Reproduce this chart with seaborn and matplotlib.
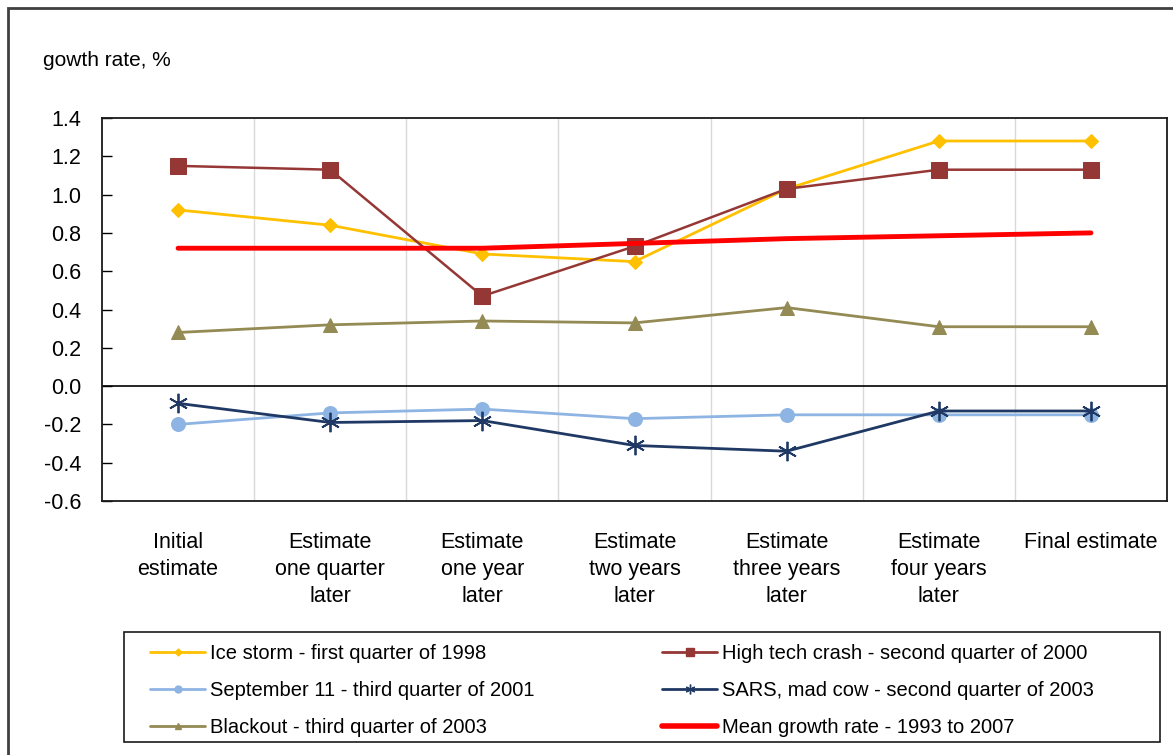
import matplotlib
matplotlib.use("Agg")
import matplotlib.pyplot as plt
import matplotlib.patches as mpatches
import seaborn as sns
import pandas as pd
import numpy as np

categories = [
    "Initial\nestimate",
    "Estimate\none quarter\nlater",
    "Estimate\none year\nlater",
    "Estimate\ntwo years\nlater",
    "Estimate\nthree years\nlater",
    "Estimate\nfour years\nlater",
    "Final estimate",
]

ice_storm = [0.92, 0.84, 0.69, 0.65, 1.03, 1.28, 1.28]
high_tech = [1.15, 1.13, 0.47, 0.73, 1.03, 1.13, 1.13]
sept_11 = [-0.20, -0.14, -0.12, -0.17, -0.15, -0.15, -0.15]
sars = [-0.09, -0.19, -0.18, -0.31, -0.34, -0.13, -0.13]
blackout = [0.28, 0.32, 0.34, 0.33, 0.41, 0.31, 0.31]
mean_growth = [0.72, 0.72, 0.72, 0.745, 0.77, 0.785, 0.80]

series_names = [
    "Ice storm - first quarter of 1998",
    "High tech crash - second quarter of 2000",
    "September 11 - third quarter of 2001",
    "SARS, mad cow - second quarter of 2003",
    "Blackout - third quarter of 2003",
    "Mean growth rate - 1993 to 2007",
]
series_values = [ice_storm, high_tech, sept_11, sars, blackout, mean_growth]

styles = {
    series_names[0]: dict(color="#FFC000", marker="D", ms=7, lw=2.0),
    series_names[1]: dict(color="#953735", marker="s", ms=11, lw=1.8),
    series_names[2]: dict(color="#8EB4E3", marker="o", ms=10, lw=2.0),
    series_names[3]: dict(color="#1F3864", marker=(6, 2, 0), ms=14, lw=2.0),
    series_names[4]: dict(color="#948A54", marker="^", ms=10, lw=2.0),
    series_names[5]: dict(color="#FF0000", marker=None, ms=0, lw=3.5),
}

sns.set_theme(style="white")
plt.rcParams["font.family"] = ["Liberation Sans", "DejaVu Sans"]
plt.rcParams["text.color"] = "black"
plt.rcParams["xtick.color"] = "black"
plt.rcParams["ytick.color"] = "black"

fig = plt.figure(figsize=(11.73, 7.55), dpi=100)
W, H = 1173, 755
ax = fig.add_axes([102 / W, 1 - 501 / H, (1167 - 102) / W, (501 - 118) / H])

x_pos = np.arange(len(categories))
frames = []
for name, vals in zip(series_names, series_values):
    frames.append(pd.DataFrame({"pos": x_pos, "value": vals, "series": name}))
df = pd.concat(frames, ignore_index=True)

# draw the mean line first so the event series sit on top
draw_order = [5, 4, 2, 0, 1, 3]
for i in draw_order:
    name = series_names[i]
    st = styles[name]
    sub = df[df["series"] == name]
    kw = dict(marker=st["marker"], markersize=st["ms"],
              markeredgecolor=st["color"], markerfacecolor=st["color"])
    if st["marker"] is None:
        kw = {}
    if i == 3:
        kw["markeredgewidth"] = 1.3
    sns.lineplot(data=sub, x="pos", y="value", ax=ax, color=st["color"],
                 linewidth=st["lw"], label=name, legend=False, zorder=3 + i, **kw)

ax.set_xlim(-0.5, len(categories) - 0.5)
ax.set_ylim(-0.6, 1.4)
yt = np.arange(-0.6, 1.41, 0.2)
ax.set_yticks(yt)
ax.set_yticklabels([f"{v:.1f}" for v in yt], fontsize=15.5)
ax.set_xticks(x_pos)
ax.set_xticklabels(categories, fontsize=15.5, linespacing=1.38, va="top")
ax.tick_params(axis="x", length=0, pad=22)
ax.tick_params(axis="y", direction="in", length=7, width=1, color="black", pad=15, left=True)
ax.set_xlabel("")
ax.set_ylabel("")

# vertical separators between categories
for b in np.arange(0.5, len(categories) - 0.5, 1.0):
    ax.axvline(b, color="#D9D9D9", lw=1.0, zorder=1)
ax.axhline(0, color="black", lw=1.2, zorder=2)

for s in ax.spines.values():
    s.set_visible(True)
    s.set_color("#1a1a1a")
    s.set_linewidth(1.3)

fig.text(43 / W, 1 - 60 / H, "gowth rate, %", fontsize=15, va="center", ha="left")

# legend: frame box plus two columns of entries
handles = {}
for name in series_names:
    st = styles[name]
    if st["marker"] is None:
        h = plt.Line2D([], [], color=st["color"], lw=4)
    else:
        h = plt.Line2D([], [], color=st["color"], lw=2, marker=st["marker"],
                       markersize=st["ms"] * 0.5, markeredgecolor=st["color"],
                       markerfacecolor=st["color"])
    handles[name] = h

fig.patches.append(mpatches.Rectangle((124 / W, 1 - 742 / H), (1160 - 124) / W, (742 - 632) / H,
                                      transform=fig.transFigure, fill=True,
                                      facecolor="white", edgecolor="#1a1a1a", lw=1.2,
                                      zorder=1))

col_left = [series_names[0], series_names[2], series_names[4]]
col_right = [series_names[1], series_names[3], series_names[5]]
leg_kw = dict(loc="upper left", fontsize=14.5, frameon=False, handlelength=2.75,
              handletextpad=0.25, labelspacing=0.9, borderaxespad=0, borderpad=0)
leg1 = fig.legend([handles[n] for n in col_left], col_left,
                  bbox_to_anchor=(150 / W, 1 - 644 / H), **leg_kw)
leg2 = fig.legend([handles[n] for n in col_right], col_right,
                  bbox_to_anchor=(662 / W, 1 - 644 / H), **leg_kw)

# chart area border
fig.patches.append(mpatches.Rectangle((8 / W, -0.05), 1.2, 1 - 8 / H + 0.05,
                                      transform=fig.transFigure, fill=False,
                                      edgecolor="#404040", lw=2.0))

fig.savefig("out.png", dpi=100)
